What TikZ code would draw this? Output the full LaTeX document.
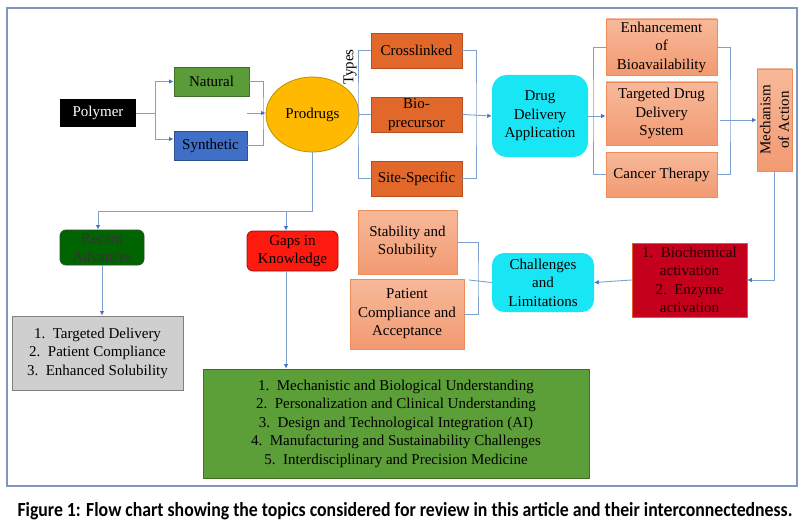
\documentclass[tikz,border=0pt]{standalone}
\usepackage{fontspec}
\setmainfont{Liberation Serif}
\newfontfamily\capfont{Carlito}
\usetikzlibrary{arrows.meta,shapes.geometric}
\definecolor{frameC}{HTML}{7F96BE}
\definecolor{lineC}{HTML}{7EA0CF}
\definecolor{tipC}{HTML}{4472C4}
\definecolor{natG}{HTML}{5B9B3A}
\definecolor{natGd}{HTML}{41702A}
\definecolor{synB}{HTML}{3F6FC6}
\definecolor{synBd}{HTML}{2F528F}
\definecolor{proY}{HTML}{FFB900}
\definecolor{proYd}{HTML}{BF9000}
\definecolor{oraC}{HTML}{E2672A}
\definecolor{oraCd}{HTML}{B5501C}
\definecolor{cyanC}{HTML}{19E6F5}
\definecolor{salT}{HTML}{F7B99A}
\definecolor{salB}{HTML}{F29A72}
\definecolor{salD}{HTML}{F08C5A}
\definecolor{bioR}{HTML}{C4001C}
\definecolor{bioRd}{HTML}{E05A2A}
\definecolor{recG}{HTML}{006500}
\definecolor{recGd}{HTML}{2D4F1E}
\definecolor{gapR}{HTML}{FF1A10}
\definecolor{gapRd}{HTML}{9A1010}
\definecolor{grayC}{HTML}{D0CFCF}
\definecolor{grayCd}{HTML}{7F8080}
\definecolor{bigG}{HTML}{5C9E38}
\definecolor{bigGd}{HTML}{3F6E27}
\tikzset{
  base/.style={inner sep=0pt, align=center, font=\fontsize{15}{18.5}\selectfont, text=black},
  boxg/.style={base, draw=natGd, fill=natG, line width=0.8pt},
  boxb/.style={base, draw=synBd, fill=synB, line width=0.8pt},
  boxo/.style={base, draw=oraCd, fill=oraC, line width=0.8pt},
  boxs/.style={base, draw=salD, top color=salT, bottom color=salB, line width=0.8pt},
  boxc/.style={base, fill=cyanC, rounded corners=12pt},
  conn/.style={draw=lineC, line width=0.9pt},
  arr/.style={conn, -{Latex[length=4.5pt,width=4.5pt,color=tipC]}},
}
\begin{document}
\begin{tikzpicture}[x=1pt,y=-1pt]
\useasboundingbox (0,0) rectangle (804,527);
\fill[white] (0,0) rectangle (804,527);
\draw[frameC, line width=2pt] (7,8) rectangle (797,486);

% nodes
\node[base, fill=black, text=white, minimum width=76pt, minimum height=28pt] (polymer) at (98,113) {Polymer};
\node[boxg, minimum width=75pt, minimum height=29pt] (natural) at (211.5,81.5) {Natural};
\node[boxb, minimum width=73pt, minimum height=29pt] (synthetic) at (210.5,145.5) {Synthetic};
\node[base, ellipse, draw=proYd, fill=proY, line width=0.8pt, minimum width=93pt, minimum height=75pt] (prodrugs) at (312.5,114.5) {Prodrugs};
\node[base, rotate=90] (types) at (350,67) {Types};
\node[boxo, minimum width=91pt, minimum height=35pt] (cross) at (416.5,50.5) {Crosslinked};
\node[boxo, minimum width=91pt, minimum height=35pt] (bio) at (416.5,114.5) {Bio-\\precursor};
\node[boxo, minimum width=91pt, minimum height=35pt] (site) at (416.5,178.5) {Site-Specific};
\node[boxc, minimum width=96pt, minimum height=82pt, rounded corners=15pt] (dda) at (540,116) {Drug\\Delivery\\Application};
\node[boxs, minimum width=111pt, minimum height=56pt] (enh) at (661.5,47) {Enhancement\\of\\Bioavailability};
\node[boxs, minimum width=111pt, minimum height=63pt] (tdds) at (661.5,113.5) {Targeted Drug\\Delivery\\System};
\node[boxs, minimum width=111pt, minimum height=45pt] (cancer) at (661.5,174.5) {Cancer Therapy};
\node[boxs, minimum width=35pt, minimum height=102pt] (moa) at (774.5,120) {};
\node[base, rotate=90] at (moa.center) {Mechanism\\of Action};
\node[base, draw=bioRd, fill=bioR, line width=0.6pt, minimum width=115pt, minimum height=74pt, text=black!85!red] (bioch) at (689.5,280) {1.\ \ Biochemical\\activation\\2.\ \ Enzyme\\activation};
\node[boxc, minimum width=102pt, minimum height=59pt] (chal) at (543,282.5) {Challenges\\and\\Limitations};
\node[boxs, minimum width=99pt, minimum height=64pt] (stab) at (407.5,242) {Stability and\\Solubility};
\node[boxs, minimum width=114pt, minimum height=70pt] (patient) at (407,314) {Patient\\Compliance and\\Acceptance};
\node[base, draw=recGd, fill=recG, line width=0.8pt, rounded corners=6pt, minimum width=84pt, minimum height=35pt, text=black!80] (recent) at (102,247.5) {Recent\\Advances};
\node[base, draw=gapRd, fill=gapR, line width=0.8pt, rounded corners=6pt, minimum width=91pt, minimum height=40pt] (gaps) at (292.5,251) {Gaps in\\Knowledge};
\node[base, draw=grayCd, fill=grayC, line width=0.8pt, minimum width=171pt, minimum height=74pt] (gray) at (97.5,353) {1.\ \ Targeted Delivery\\2.\ \ Patient Compliance\\3.\ \ Enhanced Solubility};
\node[base, draw=bigGd, fill=bigG, line width=0.8pt, minimum width=386pt, minimum height=109pt] (big) at (396,423.5) {1.\ \ Mechanistic and Biological Understanding\\2.\ \ Personalization and Clinical Understanding\\3.\ \ Design and Technological Integration (AI)\\4.\ \ Manufacturing and Sustainability Challenges\\5.\ \ Interdisciplinary and Precision Medicine};

% caption
\node[font=\capfont\bfseries\fontsize{20}{22}\selectfont, inner sep=0pt, xscale=0.887, anchor=base] (cap) at (405,516) {Figure 1: Flow chart showing the topics considered for review in this article and their interconnectedness.};

% connectors
\coordinate (pa) at (155,113);
\draw[conn] (polymer.east) -- (pa);
\draw[arr] (pa) |- (natural.west);
\draw[arr] (pa) |- ([yshift=6.5pt]synthetic.west);
\draw[conn] (natural.east) -| (263,113) |- (synthetic.east);
\coordinate (pj) at (247,113);
\draw[arr] (pj) -- (prodrugs.west |- pj);

\draw[conn] (cross.west) -| (358,114.5) |- (site.west);
\draw[conn] (prodrugs.east) -- (bio.west);
\draw[conn] (cross.east) -| (476,114.5) |- (site.east);
\draw[arr] (bio.east) -- (dda.west);

\draw[arr] (dda.east) -- (dda.east -| tdds.west);
\draw[conn] (enh.west) -| (593,110) |- (cancer.west);
\draw[conn] (enh.east) -| (730,110) |- (cancer.east);
\coordinate (mj) at (720,120);
\draw[arr] (mj) -- (moa.west);

\draw[arr] (moa.south) |- (bioch.east);
\draw[arr] (bioch.west) -- (chal.east);
\draw[conn] (stab.east) -| (478,280) |- (patient.east);
\coordinate (cj) at (469,280);
\draw[conn] (cj) -- (chal.west);

\coordinate (dj) at (312.5,211);
\draw[conn] (prodrugs.south) -- (dj);
\draw[arr] (dj) -| ([xshift=-4pt]recent.north);
\draw[arr] (dj) -| ([xshift=-6.5pt]gaps.north);
\draw[arr] (recent.south) -- (recent.south |- gray.north);
\draw[arr] ([xshift=-6.5pt]gaps.south) -- ([xshift=-6.5pt]gaps.south |- big.north);
\end{tikzpicture}
\end{document}
